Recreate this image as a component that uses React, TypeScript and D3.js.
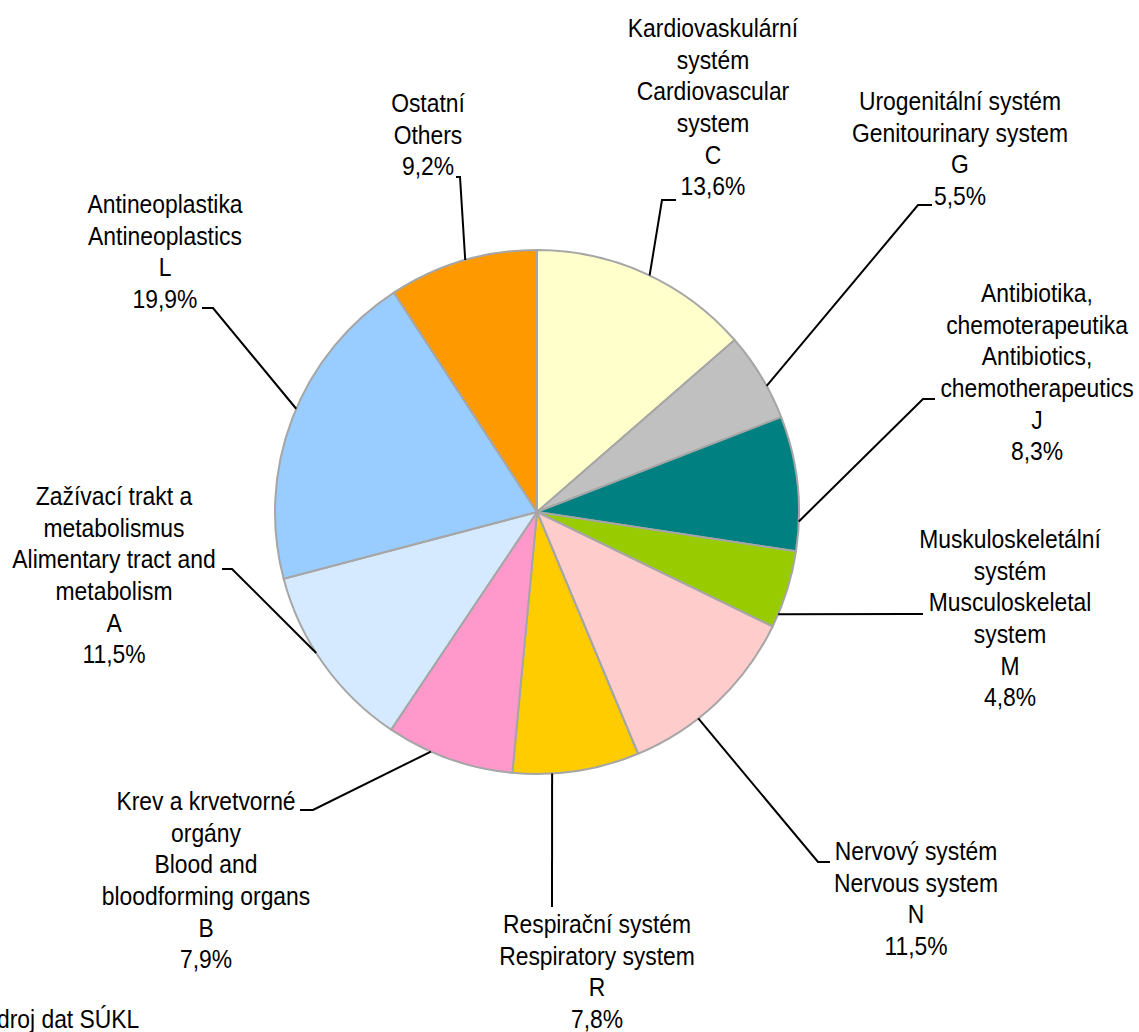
import React from 'react';
import * as d3 from 'd3';

// podíl skupin ATC na celkové spotřebě
const codes = ['C', 'G', 'J', 'M', 'N', 'R', 'B', 'A', 'L', 'O'];
const namesCz = [
  ['Kardiovaskulární', 'systém'],
  ['Urogenitální systém'],
  ['Antibiotika,', 'chemoterapeutika'],
  ['Muskuloskeletální', 'systém'],
  ['Nervový systém'],
  ['Respirační systém'],
  ['Krev a krvetvorné', 'orgány'],
  ['Zažívací trakt a', 'metabolismus'],
  ['Antineoplastika'],
  ['Ostatní'],
];
const namesEn = [
  ['Cardiovascular', 'system'],
  ['Genitourinary system'],
  ['Antibiotics,', 'chemotherapeutics'],
  ['Musculoskeletal', 'system'],
  ['Nervous system'],
  ['Respiratory system'],
  ['Blood and', 'bloodforming organs'],
  ['Alimentary tract and', 'metabolism'],
  ['Antineoplastics'],
  ['Others'],
];
const shares = [13.6, 5.5, 8.3, 4.8, 11.5, 7.8, 7.9, 11.5, 19.9, 9.2];
const colors = ['#FFFFCC', '#C0C0C0', '#008080', '#99CC00', '#FFCCCC', '#FFCC00', '#FF99CC', '#D5EAFF', '#99CCFF', '#FF9900'];

// umístění popisků (střed textu, první účaří, zalomení vodicí čáry)
const labelLayout = [
  { cx: 713, y0: 37, kx: 662, ky: 200, stub: 14, anchor: 0.52, showCode: true },
  { cx: 960, y0: 110, kx: 918, ky: 205, stub: 14, anchor: 0.62, showCode: true },
  { cx: 1037, y0: 302, kx: 923, ky: 399, stub: 12, anchor: 0.78, showCode: true },
  { cx: 1010, y0: 548, kx: 910, ky: 614, stub: 13, anchor: 0.83, showCode: true },
  { cx: 916, y0: 860, kx: 818, ky: 862, stub: 12, anchor: 0.63, showCode: true },
  { cx: 597, y0: 933, kx: 552, ky: 907, stub: 0, anchor: 0.69, showCode: true },
  { cx: 206, y0: 810, kx: 313, ky: 810, stub: -13, anchor: 0.65, showCode: true },
  { cx: 114, y0: 505, kx: 232, ky: 569, stub: -10, anchor: 0.57, showCode: true },
  { cx: 165, y0: 213, kx: 213, ky: 308, stub: -11, anchor: 0.53, showCode: true },
  { cx: 428, y0: 112, kx: 460, ky: 177, stub: -4, anchor: 0.52, showCode: false },
];

const width = 1139;
const height = 1032;
const cx = 537;
const cy = 512;
const radius = 262;
const fontSize = 26;
const lineH = 31.7;
const squeeze = 0.88;

const fmt = (v: number) => v.toFixed(1).replace('.', ',') + '%';

export default function App() {
  const pie = d3.pie<number>().sort(null).value(d => d).startAngle(0).endAngle(2 * Math.PI);
  const arcs = pie(shares);
  const arc = d3.arc<d3.PieArcDatum<number>>().innerRadius(0).outerRadius(radius);

  return (
    <svg width={width} height={height} style={{ position: 'absolute', left: 0, top: 0, background: '#fff' }}
      fontFamily="'Liberation Sans', Arial, sans-serif">
      <g transform={`translate(${cx},${cy})`}>
        {arcs.map((a, i) => (
          <path key={codes[i]} d={arc(a) || ''} fill={colors[i]} stroke="#A6A6A6" strokeWidth={2} strokeLinejoin="round" />
        ))}
      </g>
      {arcs.map((a, i) => {
        const L = labelLayout[i];
        const ang = a.startAngle + (a.endAngle - a.startAngle) * L.anchor;
        const ax = cx + radius * Math.sin(ang);
        const ay = cy - radius * Math.cos(ang);
        const pts: [number, number][] = [[ax, ay], [L.kx, L.ky], [L.kx + L.stub, L.ky]];
        return <path key={'l' + i} d={d3.line()(pts) || ''} fill="none" stroke="#000" strokeWidth={2} />;
      })}
      {arcs.map((a, i) => {
        const L = labelLayout[i];
        const lines = [...namesCz[i], ...namesEn[i], ...(L.showCode ? [codes[i]] : []), fmt(shares[i])];
        return (
          <text key={'t' + i} transform={`translate(${L.cx},${L.y0}) scale(${squeeze},1)`} textAnchor="middle"
            fontSize={fontSize} fill="#000">
            {lines.map((s, j) => (
              <tspan key={j} x={0} y={j * lineH}>{s}</tspan>
            ))}
          </text>
        );
      })}
      <text transform={`translate(-17,1028) scale(${squeeze},1)`} fontSize={fontSize} fill="#000">Zdroj dat SÚKL</text>
    </svg>
  );
}
